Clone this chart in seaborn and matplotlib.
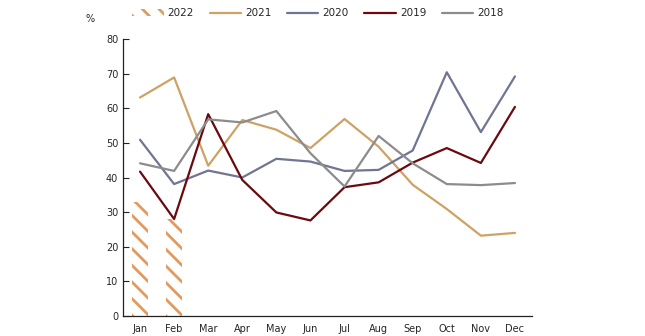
import numpy as np
import pandas as pd
import matplotlib
matplotlib.use("Agg")
import matplotlib.pyplot as plt
import seaborn as sns
from matplotlib.patches import Patch
from matplotlib.lines import Line2D

months = ["Jan", "Feb", "Mar", "Apr", "May", "Jun", "Jul", "Aug", "Sep", "Oct", "Nov", "Dec"]
v2022 = [33.0, 28.0]
v2021 = [63.1, 68.9, 43.4, 56.6, 53.8, 48.5, 56.9, 48.9, 37.9, 30.9, 23.2, 24.0]
v2020 = [50.9, 38.1, 42.0, 40.0, 45.4, 44.6, 41.9, 42.2, 47.8, 70.4, 53.1, 69.2]
v2019 = [41.7, 28.0, 58.3, 39.3, 29.9, 27.6, 37.2, 38.6, 44.3, 48.5, 44.2, 60.4]
v2018 = [44.1, 41.9, 56.8, 55.9, 59.2, 47.0, 37.4, 52.0, 44.1, 38.1, 37.8, 38.4]
line_years = ["2021", "2020", "2019", "2018"]
colors = {"2022": "#E39A5E", "2021": "#CDA264", "2020": "#6F7592",
          "2019": "#6A0A10", "2018": "#8C8C8C"}

sns.set_style("white")
plt.rcParams["font.family"] = ["DejaVu Sans"]
plt.rcParams["hatch.linewidth"] = 2.0

fig = plt.figure(figsize=(6.45, 3.36), dpi=100)
ax = fig.add_axes([123/645, 1-316/336, (532-123)/645, (316-39)/336])

HATCH = "\\\\"
bar_df = pd.DataFrame({"month": months[:len(v2022)], "value": v2022})
sns.barplot(data=bar_df, x="month", y="value", ax=ax, width=0.45,
            order=months, color="none", edgecolor=colors["2022"], linewidth=0,
            errorbar=None)
for p in ax.patches:
    p.set_facecolor("none")
    p.set_edgecolor(colors["2022"])
    p.set_hatch(HATCH)

rows = []
for yr, vals in zip(line_years, [v2021, v2020, v2019, v2018]):
    for i, v in enumerate(vals):
        rows.append({"pos": i, "value": v, "year": yr})
line_df = pd.DataFrame(rows)
sns.lineplot(data=line_df, x="pos", y="value", hue="year", hue_order=line_years,
             palette=[colors[y] for y in line_years], linewidth=1.6, ax=ax,
             legend=False, sort=False)

ax.set_xlim(-0.5, 11.5)
ax.set_ylim(0, 80)
ax.set_yticks(range(0, 81, 10))
ax.set_xticks(range(12))
ax.set_xticklabels(months)
ax.set_xticks(np.arange(-0.5, 12, 1), minor=True)
ax.tick_params(axis="x", which="major", length=0, labelsize=7, pad=6)
ax.tick_params(axis="x", which="minor", direction="in", length=4, width=0.8, color="#222222")
ax.tick_params(axis="y", direction="in", length=4, width=0.8, color="#222222", labelsize=7, left=True)
ax.set_xlabel("")
ax.set_ylabel("")
for s in ["top", "right"]:
    ax.spines[s].set_visible(False)
for s in ["left", "bottom"]:
    ax.spines[s].set_color("#222222")
    ax.spines[s].set_linewidth(0.9)

fig.text(90/645, 1-19/336, "%", fontsize=7, ha="center", va="center")

handles = [Patch(facecolor="none", edgecolor=colors["2022"], hatch=HATCH, linewidth=0, label="2022")]
for y in line_years:
    handles.append(Line2D([0], [0], color=colors[y], lw=1.6, label=y))
fig.legend(handles=handles, loc="center", bbox_to_anchor=(318/645, 1-13/336), ncol=5,
           frameon=False, fontsize=7.5, handlelength=3, handleheight=0.6,
           columnspacing=1.5, handletextpad=0.4)

fig.savefig("out.png", dpi=100)
